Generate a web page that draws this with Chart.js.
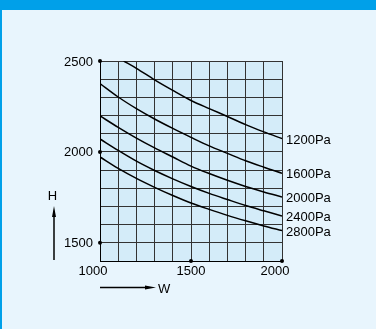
<!DOCTYPE html>
<html>
<head>
<meta charset="utf-8">
<script src="https://cdn.jsdelivr.net/npm/chart.js@4.4.1/dist/chart.umd.min.js"></script>
<style>
  html, body { margin: 0; padding: 0; background: #fff; }
  .panel {
    position: relative;
    width: 376px;
    height: 329px;
    box-sizing: border-box;
    background: #e8f5fd;
    border-top: 10px solid #00a0e9;
    border-left: 2px solid #00a0e9;
  }
  #chart { position: absolute; left: -2px; top: -10px; }
</style>
</head>
<body>
<div class="panel">
  <canvas id="chart" width="376" height="329"></canvas>
</div>
<script>
// width W (mm) steps
const widths = [1000, 1100, 1200, 1300, 1400, 1500, 1600, 1700, 1800, 1900, 2000];
const widths1200 = [1130, 1200, 1300, 1400, 1500, 1600, 1700, 1800, 1900, 2000];

// height H (mm) per pressure curve
const h1200 = [2500, 2460, 2396, 2338, 2283, 2238, 2195, 2150, 2110, 2073];
const h1600 = [2376, 2302, 2238, 2181, 2129, 2080, 2033, 1992, 1951, 1916, 1883];
const h2000 = [2198, 2135, 2076, 2022, 1972, 1922, 1881, 1844, 1810, 1780, 1752];
const h2400 = [2071, 2008, 1949, 1898, 1852, 1810, 1772, 1738, 1705, 1676, 1648];
const h2800 = [1972, 1909, 1854, 1805, 1760, 1719, 1684, 1651, 1621, 1593, 1567];

const pressureLabels = ['1200Pa', '1600Pa', '2000Pa', '2400Pa', '2800Pa'];
const xTickLabels = [1000, 1500, 2000];
const yTickLabels = [1500, 2000, 2500];

const FONT = '13px "Liberation Sans", Arial, sans-serif';

function toPoints(xs, ys) {
    return xs.map(function (x, i) { return { x: x, y: ys[i] }; });
}

const curves = [
    toPoints(widths1200, h1200),
    toPoints(widths, h1600),
    toPoints(widths, h2000),
    toPoints(widths, h2400),
    toPoints(widths, h2800)
];

const datasets = curves.map(function (pts, i) {
    return {
        label: pressureLabels[i],
        data: pts,
        borderColor: '#000',
        borderWidth: 1.5,
        pointRadius: 0,
        fill: false,
        cubicInterpolationMode: 'monotone'
    };
});

// arrow helper for the H / W axis hints
function arrow(ctx, x1, y1, x2, y2) {
    const ang = Math.atan2(y2 - y1, x2 - x1);
    const len = 11, half = 2;
    ctx.beginPath();
    ctx.moveTo(x1, y1);
    ctx.lineTo(x2 - Math.cos(ang) * len, y2 - Math.sin(ang) * len);
    ctx.stroke();
    ctx.beginPath();
    ctx.moveTo(x2, y2);
    ctx.lineTo(x2 - Math.cos(ang) * len - Math.sin(ang) * half, y2 - Math.sin(ang) * len + Math.cos(ang) * half);
    ctx.lineTo(x2 - Math.cos(ang) * len + Math.sin(ang) * half, y2 - Math.sin(ang) * len - Math.cos(ang) * half);
    ctx.closePath();
    ctx.fill();
}

const panelPlugin = {
    id: 'panel',
    beforeDraw: function (chart) {
        const a = chart.chartArea, ctx = chart.ctx;
        ctx.save();
        ctx.fillStyle = '#d4ecf9';
        ctx.fillRect(a.left, a.top, a.right - a.left, a.bottom - a.top);
        ctx.restore();
    },
    afterDraw: function (chart) {
        const ctx = chart.ctx, a = chart.chartArea;
        const xs = chart.scales.x, ys = chart.scales.y;
        ctx.save();
        ctx.fillStyle = '#000';
        ctx.strokeStyle = '#000';
        ctx.font = FONT;

        // y ticks: dot on the axis + label
        ctx.textAlign = 'right';
        ctx.textBaseline = 'middle';
        yTickLabels.forEach(function (v) {
            const y = ys.getPixelForValue(v);
            ctx.beginPath();
            ctx.arc(a.left, y, 2, 0, Math.PI * 2);
            ctx.fill();
            ctx.fillText(String(v), a.left - 7, y + 1);
        });

        // x ticks
        const xShift = [-7, 0, -7];
        ctx.textAlign = 'center';
        ctx.textBaseline = 'top';
        xTickLabels.forEach(function (v, i) {
            const x = xs.getPixelForValue(v);
            if (v !== xs.min) {
                ctx.beginPath();
                ctx.arc(x, a.bottom, 2, 0, Math.PI * 2);
                ctx.fill();
            }
            ctx.fillText(String(v), x + xShift[i], a.bottom + 4);
        });

        // pressure labels at the curve ends
        ctx.textAlign = 'left';
        ctx.textBaseline = 'middle';
        curves.forEach(function (pts, i) {
            const last = pts[pts.length - 1];
            ctx.fillText(pressureLabels[i], a.right + 4, ys.getPixelForValue(last.y) + 1.5);
        });

        // axis hints
        ctx.lineWidth = 1.5;
        ctx.textAlign = 'center';
        ctx.fillText('H', 52.5, 196);
        arrow(ctx, 54, 260, 54, 206);
        ctx.textAlign = 'left';
        ctx.fillText('W', 158, 289);
        arrow(ctx, 100, 287.5, 156, 287.5);
        ctx.restore();
    }
};

new Chart(document.getElementById('chart'), {
    type: 'line',
    data: { datasets: datasets },
    options: {
        responsive: false,
        animation: false,
        layout: { padding: { left: 100, top: 61, right: 94, bottom: 68 } },
        plugins: { legend: { display: false }, tooltip: { enabled: false } },
        scales: {
            x: {
                type: 'linear',
                min: 1000,
                max: 2000,
                ticks: { display: false, stepSize: 100 },
                grid: { color: '#333', lineWidth: 1, drawTicks: false },
                border: { color: '#000', width: 1 }
            },
            y: {
                type: 'linear',
                min: 1400,
                max: 2500,
                ticks: { display: false, stepSize: 100 },
                grid: { color: '#333', lineWidth: 1, drawTicks: false },
                border: { color: '#000', width: 1 }
            }
        }
    },
    plugins: [panelPlugin]
});
</script>
</body>
</html>
